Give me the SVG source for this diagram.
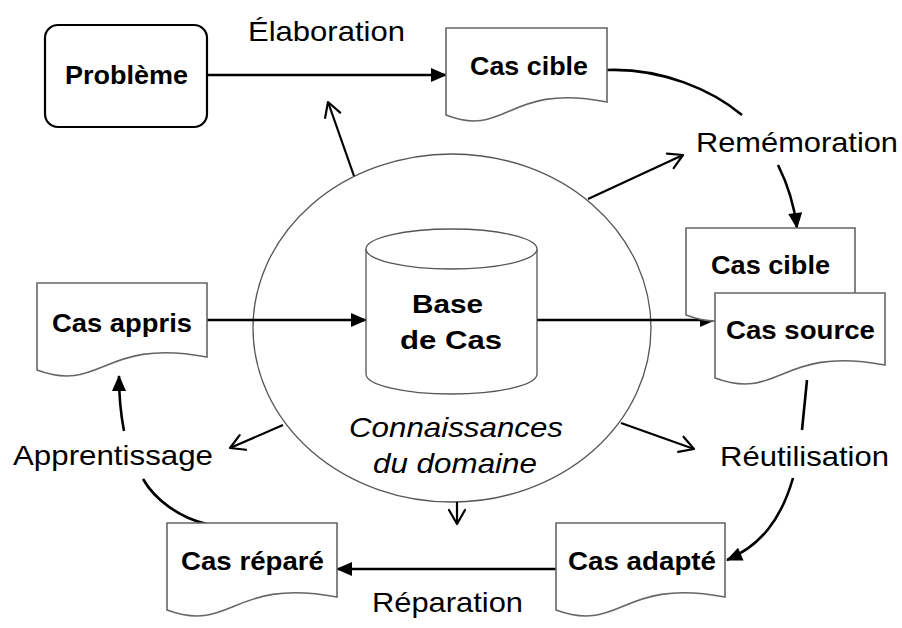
<svg xmlns="http://www.w3.org/2000/svg" width="902" height="628" viewBox="0 0 902 628">
<defs>
<style>
.doc{fill:#fff;stroke:#666;stroke-width:1.6}
.bt{font-family:"Liberation Sans",Arial,sans-serif;font-weight:bold;font-size:26px;fill:#000}
.lt{font-family:"Liberation Sans",Arial,sans-serif;font-size:28px;fill:#000}
.it{font-family:"Liberation Sans",Arial,sans-serif;font-style:italic;font-size:28px;fill:#000}
.c{fill:none;stroke:#000;stroke-width:2.6}
.t{fill:none;stroke:#000;stroke-width:2.2}
</style>
<marker id="fa" markerUnits="userSpaceOnUse" markerWidth="16" markerHeight="14" refX="15" refY="7" orient="auto" overflow="visible"><path d="M0,0 L16,7 L0,14 z" fill="#000"/></marker>
<marker id="oa" markerUnits="userSpaceOnUse" markerWidth="18" markerHeight="18" refX="16" refY="9" orient="auto" overflow="visible"><path d="M2,1 L16,9 L2,17" fill="none" stroke="#000" stroke-width="2.2" stroke-linecap="round" stroke-linejoin="round"/></marker>
</defs>
<rect width="902" height="628" fill="#fff"/>

<g id="domaine">
<ellipse cx="452" cy="328" rx="199" ry="174" fill="#fff" stroke="#555" stroke-width="1.3"/>
<text class="it" x="349" y="437" textLength="214" lengthAdjust="spacingAndGlyphs">Connaissances</text>
<text class="it" x="373" y="473" textLength="164" lengthAdjust="spacingAndGlyphs">du domaine</text>
</g>

<g id="connectors">
<path class="c" d="M207,75 H446" marker-end="url(#fa)"/>
<path class="c" d="M607,70 C662,68 712,90 742,115"/>
<path class="c" d="M778,165 Q793,195 797,228" marker-end="url(#fa)"/>
<path class="c" d="M207,320 H366" marker-end="url(#fa)"/>
<path class="c" d="M537,320 H715" marker-end="url(#fa)"/>
<path class="c" d="M807,380 L802,430"/>
<path class="c" d="M793,478 C781,520 760,546 727,560" marker-end="url(#fa)"/>
<path class="c" d="M556,569 H337" marker-end="url(#fa)"/>
<path class="c" d="M207,524 C180,518 155,500 143,479"/>
<path class="c" d="M124,431 Q119,405 119,376" marker-end="url(#fa)"/>
<path class="t" d="M354,176 L328,102" marker-end="url(#oa)"/>
<path class="t" d="M588,199 L683,155" marker-end="url(#oa)"/>
<path class="t" d="M283,425 L230,448" marker-end="url(#oa)"/>
<path class="t" d="M621,423 L694,449" marker-end="url(#oa)"/>
<path class="t" d="M457,502 L457,524" marker-end="url(#oa)"/>
</g>

<g id="labels">
<text class="lt" x="248" y="41" textLength="157" lengthAdjust="spacingAndGlyphs">Élaboration</text>
<text class="lt" x="696" y="152" textLength="202" lengthAdjust="spacingAndGlyphs">Remémoration</text>
<text class="lt" x="13" y="465" textLength="200" lengthAdjust="spacingAndGlyphs">Apprentissage</text>
<text class="lt" x="720" y="466" textLength="169" lengthAdjust="spacingAndGlyphs">Réutilisation</text>
<text class="lt" x="372" y="612" textLength="151" lengthAdjust="spacingAndGlyphs">Réparation</text>
</g>

<g id="probleme">
<rect x="45" y="25" width="162" height="102" rx="13" fill="#fff" stroke="#000" stroke-width="2.2"/>
<text class="bt" x="65" y="84" textLength="123" lengthAdjust="spacingAndGlyphs">Problème</text>
</g>

<g id="cas-cible-1">
<path class="doc" d="M446,28 H607 V102 C507,82 507,139 446,115 Z"/>
<text class="bt" x="470" y="75" textLength="118" lengthAdjust="spacingAndGlyphs">Cas cible</text>
</g>

<g id="base-de-cas">
<path d="M366,249 V374 A85.5,20 0 0 0 537,374 V249" fill="#fff" stroke="#555" stroke-width="1.3"/>
<ellipse cx="451.5" cy="249" rx="85.5" ry="20" fill="#fff" stroke="#555" stroke-width="1.3"/>
<text class="bt" x="412" y="313" font-size="28" textLength="71" lengthAdjust="spacingAndGlyphs">Base</text>
<text class="bt" x="400" y="349" font-size="28" textLength="102" lengthAdjust="spacingAndGlyphs">de Cas</text>
</g>

<g id="cas-cible-2">
<path class="doc" d="M686,228 H855 V302 C750,282 750,339 686,315 Z"/>
<text class="bt" x="711" y="274" textLength="119" lengthAdjust="spacingAndGlyphs">Cas cible</text>
</g>

<g id="cas-source">
<path class="doc" d="M715,293 H885 V365 C780,345 780,402 715,378 Z"/>
<text class="bt" x="726" y="339" textLength="149" lengthAdjust="spacingAndGlyphs">Cas source</text>
</g>

<g id="cas-appris">
<path class="doc" d="M37,283 H207 V357 C102,337 102,394 37,370 Z"/>
<text class="bt" x="52" y="332" textLength="140" lengthAdjust="spacingAndGlyphs">Cas appris</text>
</g>

<g id="cas-repare">
<path class="doc" d="M167,523 H337 V597 C232,577 232,634 167,610 Z"/>
<text class="bt" x="181" y="570" textLength="143" lengthAdjust="spacingAndGlyphs">Cas réparé</text>
</g>

<g id="cas-adapte">
<path class="doc" d="M556,523 H725 V597 C621,577 621,634 556,610 Z"/>
<text class="bt" x="568" y="570" textLength="148" lengthAdjust="spacingAndGlyphs">Cas adapté</text>
</g>
</svg>
